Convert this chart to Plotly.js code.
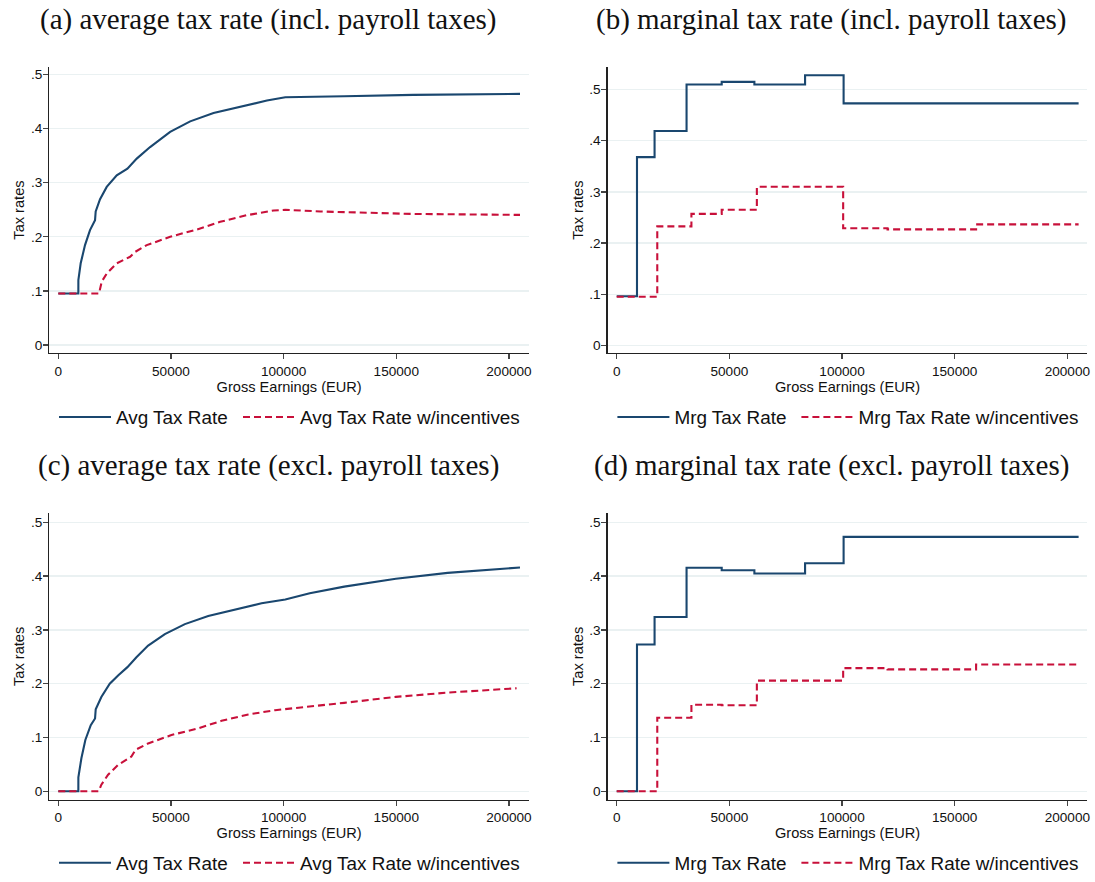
<!DOCTYPE html>
<html>
<head>
<meta charset="utf-8">
<script src="https://cdn.plot.ly/plotly-3.0.1.min.js"></script>
<style>
html,body{margin:0;padding:0;background:#fff;}
#chart{width:1095px;height:882px;}
</style>
</head>
<body>
<div id="chart"></div>
<script>
// ---------- DATA ----------
// (a) average tax rate incl. payroll taxes
const avgInclX = [0, 8890, 8900, 9930, 11850, 14070, 16300, 16590, 18520, 21480, 25930, 30670, 34810, 40740, 49630, 58520, 68890, 82220, 92590, 100740, 116300, 126900, 157500, 204900];
const avgInclY = [0.095, 0.095, 0.120, 0.151, 0.1846, 0.2123, 0.2308, 0.247, 0.2695, 0.2923, 0.3138, 0.326, 0.3446, 0.366, 0.394, 0.4135, 0.429, 0.442, 0.452, 0.458, 0.4597, 0.460, 0.4626, 0.4644];
const avgInclIncX = [0, 18070, 19260, 21480, 25930, 31850, 34070, 39260, 49630, 61480, 71850, 83700, 95560, 100740, 116300, 126900, 157500, 204900];
const avgInclIncY = [0.095, 0.095, 0.117, 0.132, 0.151, 0.163, 0.172, 0.1846, 0.200, 0.2135, 0.2277, 0.240, 0.2486, 0.250, 0.2468, 0.2454, 0.2423, 0.2405];

// (b) marginal tax rate incl. payroll taxes (step breakpoints)
const mrgInclX = [0, 9000, 16800, 31000, 46600, 61100, 83600, 100700, 205000];
const mrgInclY = [0.096, 0.368, 0.419, 0.510, 0.515, 0.510, 0.528, 0.473, 0.473];
const mrgInclIncX = [0, 18000, 33150, 46600, 62200, 100500, 120200, 159500, 205000];
const mrgInclIncY = [0.095, 0.2325, 0.257, 0.265, 0.310, 0.229, 0.2267, 0.2364, 0.2364];

// (c) average tax rate excl. payroll taxes
const avgExclX = [0, 8890, 8900, 10240, 12000, 14400, 16300, 16600, 19100, 22830, 26530, 30670, 34670, 39870, 47290, 56180, 66530, 78400, 90220, 100740, 111600, 126900, 149800, 172800, 204900];
const avgExclY = [0, 0, 0.0258, 0.0615, 0.0954, 0.123, 0.1354, 0.1526, 0.1754, 0.200, 0.2154, 0.2308, 0.249, 0.2708, 0.2923, 0.3108, 0.326, 0.3385, 0.3495, 0.3565, 0.368, 0.3805, 0.395, 0.406, 0.416];
const avgExclIncX = [0, 17950, 19100, 22090, 26530, 32440, 34220, 39870, 50220, 62090, 72440, 84310, 96180, 106530, 126900, 149800, 172800, 203400];
const avgExclIncY = [0, 0, 0.0123, 0.0308, 0.049, 0.0646, 0.077, 0.089, 0.1046, 0.117, 0.131, 0.1428, 0.1508, 0.155, 0.1644, 0.1755, 0.1835, 0.1915];

// (d) marginal tax rate excl. payroll taxes (step breakpoints)
const mrgExclX = [0, 9000, 16800, 31000, 46600, 61100, 83600, 100700, 205000];
const mrgExclY = [0, 0.273, 0.324, 0.4156, 0.411, 0.405, 0.424, 0.473, 0.473];
const mrgExclIncX = [0, 18000, 33150, 46600, 62200, 100500, 120200, 159500, 205000];
const mrgExclIncY = [0, 0.1367, 0.161, 0.160, 0.2057, 0.229, 0.2266, 0.2358, 0.2358];

// tick labels
const yTickVals = [0, 0.1, 0.2, 0.3, 0.4, 0.5];
const yTickText = ['0', '.1', '.2', '.3', '.4', '.5'];
const xTickVals = [0, 50000, 100000, 150000, 200000];
const xTickText = ['0', '50000', '100000', '150000', '200000'];

const panelTitles = [
  '(a) average tax rate (incl. payroll taxes)',
  '(b) marginal tax rate (incl. payroll taxes)',
  '(c) average tax rate (excl. payroll taxes)',
  '(d) marginal tax rate (excl. payroll taxes)'
];
const seriesNames = ['Avg Tax Rate', 'Avg Tax Rate w/incentives', 'Mrg Tax Rate', 'Mrg Tax Rate w/incentives'];

// ---------- STYLE ----------
const BLUE = '#1a476f';
const RED = '#c8103a';
const DASH = '7px,4px';
const sansFont = 'Liberation Sans, Arial, sans-serif';
const W = 1095, H = 882;

function tr(x, y, name, color, dash, shape, xa, ya, leg) {
  return {
    type: 'scatter', mode: 'lines', x: x, y: y, name: name,
    line: {color: color, width: 2.1, dash: dash, shape: shape},
    xaxis: xa, yaxis: ya, legend: leg, hoverinfo: 'skip'
  };
}

const data = [
  tr(avgInclX, avgInclY, seriesNames[0], BLUE, 'solid', 'linear', 'x', 'y', 'legend'),
  tr(avgInclIncX, avgInclIncY, seriesNames[1], RED, DASH, 'linear', 'x', 'y', 'legend2'),
  tr(mrgInclX, mrgInclY, seriesNames[2], BLUE, 'solid', 'hv', 'x2', 'y2', 'legend3'),
  tr(mrgInclIncX, mrgInclIncY, seriesNames[3], RED, DASH, 'hv', 'x2', 'y2', 'legend4'),
  tr(avgExclX, avgExclY, seriesNames[0], BLUE, 'solid', 'linear', 'x3', 'y3', 'legend5'),
  tr(avgExclIncX, avgExclIncY, seriesNames[1], RED, DASH, 'linear', 'x3', 'y3', 'legend6'),
  tr(mrgExclX, mrgExclY, seriesNames[2], BLUE, 'solid', 'hv', 'x4', 'y4', 'legend7'),
  tr(mrgExclIncX, mrgExclIncY, seriesNames[3], RED, DASH, 'hv', 'x4', 'y4', 'legend8')
];

const leftDom = [49.3 / W, 529 / W];
const rightDom = [607.7 / W, 1087.4 / W];
const topDom = [(H - 355.5) / H, (H - 67.5) / H];
const botDom = [(H - 805) / H, (H - 516.7) / H];
const xRange = [-4000, 208900];

function xax(dom, anchor) {
  return {
    domain: dom, anchor: anchor, range: xRange,
    tickvals: xTickVals, ticktext: xTickText,
    showline: true, linecolor: '#222', linewidth: 1.3,
    ticks: 'outside', ticklen: 5, tickcolor: '#444', tickwidth: 1.3,
    showgrid: false, zeroline: false,
    tickfont: {family: sansFont, size: 13.6, color: '#111'},
    title: {text: 'Gross Earnings (EUR)', standoff: 2, font: {family: sansFont, size: 14.6, color: '#111'}}
  };
}
function yax(dom, anchor, range) {
  return {
    domain: dom, anchor: anchor, range: range,
    tickvals: yTickVals, ticktext: yTickText,
    showline: true, linecolor: '#222', linewidth: 1.3,
    ticks: 'outside', ticklen: 5, tickcolor: '#444', tickwidth: 1.3,
    ticklabelstandoff: -2,
    showgrid: true, gridcolor: '#eaf1f2', gridwidth: 1.3, zeroline: false,
    tickfont: {family: sansFont, size: 13.6, color: '#111'},
    title: {text: 'Tax rates', standoff: 2, font: {family: sansFont, size: 14.6, color: '#111'}}
  };
}
function leg(xpx, ypx) {
  return {
    orientation: 'h', x: xpx / W, y: (H - ypx) / H, xanchor: 'left', yanchor: 'middle',
    font: {family: sansFont, size: 18.9, color: '#111'},
    bgcolor: 'rgba(0,0,0,0)', borderwidth: 0, itemwidth: 52
  };
}
function ttl(text, xpx, ypx) {
  return {
    text: text, xref: 'paper', yref: 'paper', x: xpx / W, y: (H - ypx) / H,
    xanchor: 'center', yanchor: 'middle', showarrow: false,
    font: {family: 'Liberation Serif, Times New Roman, serif', size: 29, color: '#111'}
  };
}

const legTop = 420, legBot = 869;
const layout = {
  width: W, height: H,
  margin: {l: 0, r: 0, t: 0, b: 0},
  paper_bgcolor: '#fff', plot_bgcolor: '#fff',
  showlegend: true,
  xaxis: xax(leftDom, 'y'),
  yaxis: yax(topDom, 'x', [-0.0151, 0.514]),
  xaxis2: xax(rightDom, 'y2'),
  yaxis2: yax(topDom, 'x2', [-0.0151, 0.544]),
  xaxis3: xax(leftDom, 'y3'),
  yaxis3: yax(botDom, 'x3', [-0.0153, 0.517]),
  xaxis4: xax(rightDom, 'y4'),
  yaxis4: yax(botDom, 'x4', [-0.0153, 0.517]),
  legend: leg(54, legTop),
  legend2: leg(238, legTop),
  legend3: leg(612.4, legTop),
  legend4: leg(796.4, legTop),
  legend5: leg(54, legBot),
  legend6: leg(238, legBot),
  legend7: leg(612.4, legBot),
  legend8: leg(796.4, legBot),
  annotations: [
    ttl(panelTitles[0], 268.5, 20),
    ttl(panelTitles[1], 831.5, 20),
    ttl(panelTitles[2], 268.5, 469),
    ttl(panelTitles[3], 831.5, 469)
  ]
};

Plotly.newPlot('chart', data, layout, {staticPlot: true, displayModeBar: false});
</script>
</body>
</html>
